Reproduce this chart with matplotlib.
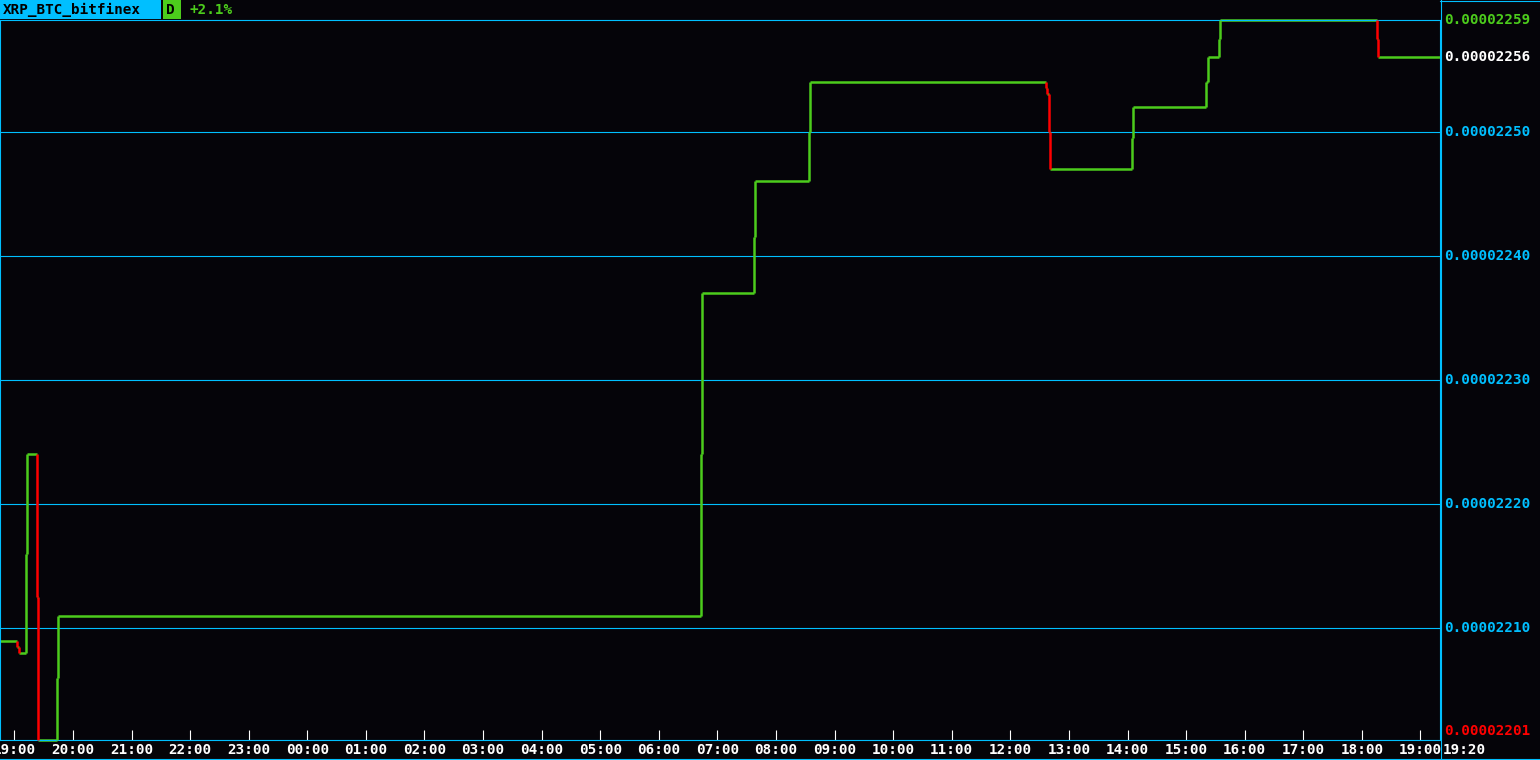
import matplotlib
matplotlib.use('Agg')
import matplotlib.pyplot as plt
import matplotlib.dates as mdates
from matplotlib.patches import Rectangle
import pandas as pd

# chart data (prices in 1e-8 BTC)
symbol = 'XRP_BTC_bitfinex'
timeframe = 'D'
change = '+2.1%'
times = ['2018-05-14 18:45', '2018-05-14 19:03', '2018-05-14 19:05', '2018-05-14 19:12',
         '2018-05-14 19:13', '2018-05-14 19:23', '2018-05-14 19:24', '2018-05-14 19:44',
         '2018-05-14 19:45', '2018-05-15 06:43', '2018-05-15 06:44', '2018-05-15 07:37',
         '2018-05-15 07:38', '2018-05-15 08:34', '2018-05-15 08:35', '2018-05-15 12:37',
         '2018-05-15 12:38', '2018-05-15 12:40', '2018-05-15 12:41', '2018-05-15 14:05',
         '2018-05-15 14:06', '2018-05-15 15:20', '2018-05-15 15:22', '2018-05-15 15:34',
         '2018-05-15 15:35', '2018-05-15 18:15', '2018-05-15 18:16', '2018-05-15 19:20']
prices = [2209, 2208.5, 2208, 2216, 2224, 2212.5, 2201, 2206, 2211, 2224, 2237, 2241.5,
          2246, 2250, 2254, 2253.5, 2253, 2250, 2247, 2249.5, 2252, 2254, 2256, 2257.5,
          2259, 2257.5, 2256, 2256]
grid_levels = [2210, 2220, 2230, 2240, 2250]
hour_ticks = pd.date_range('2018-05-14 19:00', '2018-05-15 19:00', freq='h')
last_time_label = '19:20'

BG = '#050409'
CYAN = '#00bfff'
GREEN = '#4ccc1c'
RED = '#ff0000'
W, H = 1540, 760
FONT = 'DejaVu Sans Mono'
FS = 10.3
FW = 'bold'
LW = 1.8

t = mdates.date2num(pd.to_datetime(times))

fig = plt.figure(figsize=(W / 100, H / 100), dpi=100, facecolor=BG)
ax = fig.add_axes([0, 20 / H, 1440 / W, 720 / H], facecolor=BG)
ax.set_xlim(mdates.date2num(pd.Timestamp('2018-05-14 18:45:20')), t[-1])
ax.set_ylim(min(prices), max(prices))

for lv in grid_levels:
    ax.axhline(lv, color=CYAN, linewidth=0.8, zorder=1)

# step line: horizontals green, verticals coloured by direction
for i in range(len(t)):
    if i > 0:
        col = GREEN if prices[i] >= prices[i - 1] else RED
        ax.plot([t[i], t[i]], [prices[i - 1], prices[i]], color=col, linewidth=LW,
                solid_capstyle='butt', clip_on=False, zorder=3)
    if i < len(t) - 1:
        ax.plot([t[i], t[i + 1]], [prices[i], prices[i]], color=GREEN, linewidth=LW,
                solid_capstyle='butt', clip_on=False, zorder=2)

for s in ax.spines.values():
    s.set_color(CYAN)
    s.set_linewidth(0.8)
ax.set_yticks([])
ax.set_xticks(mdates.date2num(hour_ticks))
ax.xaxis.set_major_formatter(mdates.DateFormatter('%H:%M'))
ax.tick_params(axis='x', direction='in', length=7, width=0.8, color='white',
               labelcolor='white', labelsize=FS, pad=2)
for lab in ax.get_xticklabels():
    lab.set_fontfamily(FONT)
    lab.set_fontweight(FW)

# right price labels
ytr = ax.get_yaxis_transform()
for lv in grid_levels:
    ax.text(1.003, lv, f'{lv * 1e-8:.8f}', transform=ytr, ha='left', va='center',
            color=CYAN, fontsize=FS, family=FONT, weight=FW, clip_on=False)
ax.text(1.003, max(prices), f'{max(prices) * 1e-8:.8f}', transform=ytr, ha='left',
        va='center', color=GREEN, fontsize=FS, family=FONT, weight=FW, clip_on=False)
ax.text(1.003, prices[-1], f'{prices[-1] * 1e-8:.8f}', transform=ytr, ha='left',
        va='center', color='white', fontsize=FS, family=FONT, weight=FW, clip_on=False)
ax.text(1.003, min(prices) + 0.7, f'{min(prices) * 1e-8:.8f}', transform=ytr, ha='left',
        va='center', color=RED, fontsize=FS, family=FONT, weight=FW, clip_on=False)

# frame pieces outside the axes
fig.add_artist(plt.Line2D([1440.5 / W] * 2, [0, 1], color=CYAN, linewidth=0.8))
fig.add_artist(plt.Line2D([0, 1], [1.5 / H] * 2, color=CYAN, linewidth=0.8))
fig.add_artist(plt.Line2D([1440 / W, 1], [1 - 0.5 / H] * 2, color=CYAN, linewidth=0.8))
fig.text(1443 / W, 1 - 750 / H, last_time_label, color='white', fontsize=FS, family=FONT,
         weight=FW, ha='left', va='center')

# header
fig.add_artist(Rectangle((0, 1 - 19 / H), 161 / W, 19 / H, transform=fig.transFigure,
                         facecolor=CYAN, edgecolor='none'))
fig.add_artist(Rectangle((163 / W, 1 - 19 / H), 18 / W, 19 / H, transform=fig.transFigure,
                         facecolor=GREEN, edgecolor='none'))
fig.text(3 / W, 1 - 10 / H, symbol, color='black', fontsize=FS, family=FONT, weight=FW,
         va='center')
fig.text(166 / W, 1 - 10 / H, timeframe, color='black', fontsize=FS, family=FONT,
         weight=FW, va='center')
fig.text(189 / W, 1 - 10 / H, change, color=GREEN, fontsize=FS, family=FONT, weight=FW,
         va='center')

fig.savefig('out.png', dpi=100, facecolor=BG)
